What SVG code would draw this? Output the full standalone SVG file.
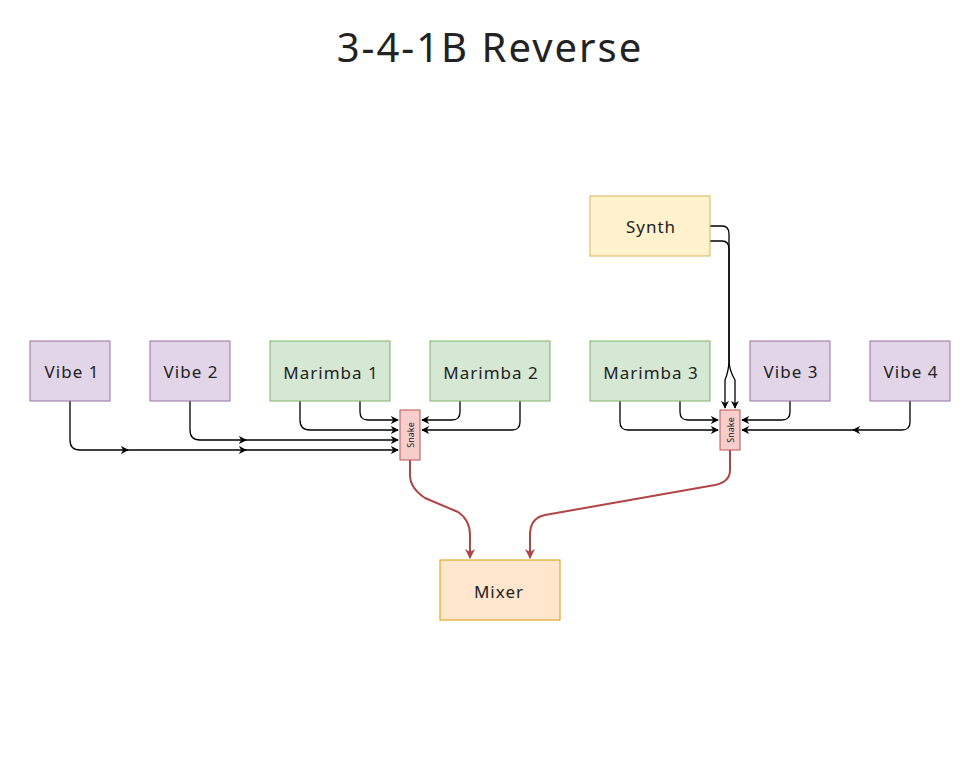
<svg xmlns="http://www.w3.org/2000/svg" width="980" height="757" viewBox="0 0 980 757">
<style>
text{font-family:"Noto Sans","DejaVu Sans",sans-serif;fill:#222;text-anchor:middle;dominant-baseline:central}
.lbl{font-size:17px;letter-spacing:1px}
.vibe{fill:#e1d5e7;stroke:#9673a6}
.mar{fill:#d5e8d4;stroke:#82b366}
.snake{fill:#f8cecc;stroke:#b85450}
.w{fill:none;stroke:#000;stroke-width:1.3}
.r{fill:none;stroke:#b04545;stroke-width:2}
</style>
<defs>
<marker id="a" viewBox="0 0 10 10" refX="9" refY="5" markerWidth="8" markerHeight="8" orient="auto-start-reverse" markerUnits="userSpaceOnUse"><path d="M0,0 L10,5 L0,10 L3,5 Z" fill="#000"/></marker>
<marker id="ar" viewBox="0 0 10 10" refX="9" refY="5" markerWidth="10" markerHeight="10" orient="auto" markerUnits="userSpaceOnUse"><path d="M0,0 L10,5 L0,10 L3,5 Z" fill="#b04545"/></marker>
</defs>
<text x="490" y="46" style="font-size:40px;letter-spacing:2px">3-4-1B Reverse</text>
<g id="connectors">
<path class="w" d="M70,401 V440 Q70,450 80,450 H128" marker-end="url(#a)"/>
<path class="w" d="M126,450 H246" marker-end="url(#a)"/>
<path class="w" d="M244,450 H398" marker-end="url(#a)"/>
<path class="w" d="M190,401 V430 Q190,440 200,440 H246" marker-end="url(#a)"/>
<path class="w" d="M244,440 H398" marker-end="url(#a)"/>
<path class="w" d="M300,401 V420 Q300,430 310,430 H398" marker-end="url(#a)"/>
<path class="w" d="M360,401 V412 Q360,420 368,420 H398" marker-end="url(#a)"/>
<path class="w" d="M460,401 V412 Q460,420 452,420 H422" marker-end="url(#a)"/>
<path class="w" d="M520,401 V422 Q520,430 512,430 H422" marker-end="url(#a)"/>
<path class="w" d="M620,401 V422 Q620,430 628,430 H718" marker-end="url(#a)"/>
<path class="w" d="M680,401 V412 Q680,420 688,420 H718" marker-end="url(#a)"/>
<path class="w" d="M790,401 V412 Q790,420 782,420 H742" marker-end="url(#a)"/>
<path class="w" d="M910,401 V422 Q910,430 902,430 H853" marker-end="url(#a)"/>
<path class="w" d="M856,430 H742" marker-end="url(#a)"/>
<path class="w" d="M710,226 H722 Q729,226 729,234 V360 Q729,370 725,380 V408" marker-end="url(#a)"/>
<path class="w" d="M710,241 H722 Q729,241 729,249 V360 Q729,370 735,380 V408" marker-end="url(#a)"/>
<path class="r" d="M410,460 V475 Q410,488 425,498 L458,512 Q470,520 470,535 V558" marker-end="url(#ar)"/>
<path class="r" d="M730,450 V470 Q730,482 715,485 L545,515 Q530,518 530,535 V558" marker-end="url(#ar)"/>
</g>
<g id="vibe1"><rect class="vibe" x="30" y="341" width="80" height="60"/><text class="lbl" x="72" y="371">Vibe 1</text></g>
<g id="vibe2"><rect class="vibe" x="150" y="341" width="80" height="60"/><text class="lbl" x="191" y="371">Vibe 2</text></g>
<g id="marimba1"><rect class="mar" x="270" y="341" width="120" height="60"/><text class="lbl" x="331" y="372">Marimba 1</text></g>
<g id="marimba2"><rect class="mar" x="430" y="341" width="120" height="60"/><text class="lbl" x="491" y="372">Marimba 2</text></g>
<g id="marimba3"><rect class="mar" x="590" y="341" width="120" height="60"/><text class="lbl" x="651" y="372">Marimba 3</text></g>
<g id="vibe3"><rect class="vibe" x="750" y="341" width="80" height="60"/><text class="lbl" x="791" y="371">Vibe 3</text></g>
<g id="vibe4"><rect class="vibe" x="870" y="341" width="80" height="60"/><text class="lbl" x="911" y="371">Vibe 4</text></g>
<g id="synth"><rect x="590" y="196" width="120" height="60" fill="#fff2cc" stroke="#d6b656"/><text class="lbl" x="651" y="226">Synth</text></g>
<g id="mixer"><rect x="440" y="560" width="120" height="60" fill="#ffe6cc" stroke="#d79b00"/><text class="lbl" x="499" y="591">Mixer</text></g>
<g id="snake1"><rect class="snake" x="400" y="410" width="20" height="50"/><text x="410" y="435" transform="rotate(-90 410 435)" style="font-size:9px">Snake</text></g>
<g id="snake2"><rect class="snake" x="720" y="410" width="20" height="40"/><text x="730" y="430" transform="rotate(-90 730 430)" style="font-size:9px">Snake</text></g>
</svg>
